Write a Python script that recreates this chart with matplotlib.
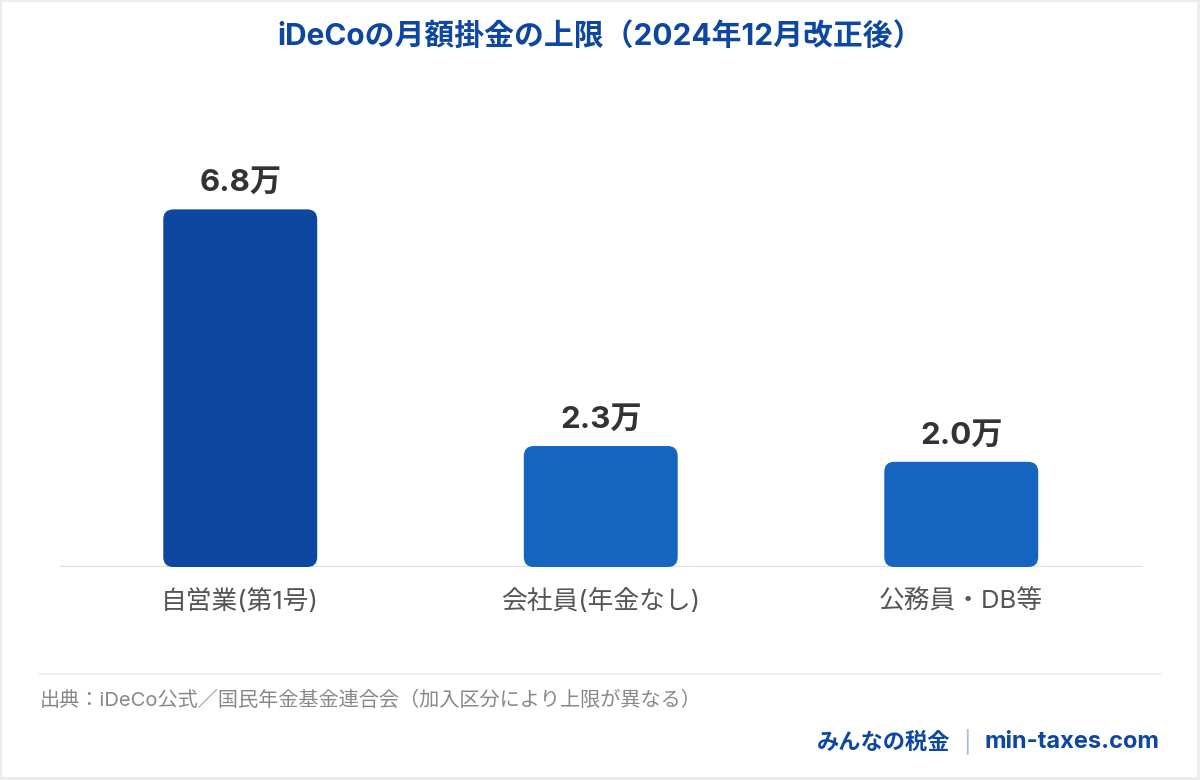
import matplotlib
matplotlib.use("Agg")
import matplotlib.pyplot as plt
from matplotlib.lines import Line2D
from matplotlib.patches import FancyBboxPatch, Rectangle

plt.rcParams["font.family"] = ["Inter", "Noto Sans CJK JP", "DejaVu Sans"]

# data (上限, 万円/月)
categories = ["自営業(第1号)", "会社員(年金なし)", "公務員・DB等"]
limits_man = [6.8, 2.3, 2.0]
value_labels = ["6.8万", "2.3万", "2.0万"]
bar_colors = ["#0d47a1", "#1565c0", "#1565c0"]

TITLE = "iDeCoの月額掛金の上限（2024年12月改正後）"
SOURCE = "出典：iDeCo公式／国民年金基金連合会（加入区分により上限が異なる）"
BRAND = "みんなの税金"
SITE = "min-taxes.com"

BLUE = "#0d47a1"
W, H = 1200, 780

fig = plt.figure(figsize=(W / 100, H / 100), dpi=100, facecolor="#ececec")
fig.patches.append(Rectangle((2 / W, 3 / H), 1 - 5 / W, 1 - 5 / H,
                             transform=fig.transFigure, facecolor="white",
                             edgecolor="none", zorder=-5))

ax = fig.add_axes([60 / W, (H - 567) / H, 1081.5 / W, 426 / H])
ax.set_facecolor("none")
x = list(range(len(categories)))
bars = ax.bar(x, limits_man, width=0.427, color=bar_colors)
ax.set_xlim(-0.5, len(categories) - 0.5)
ax.set_ylim(0, 8.1)
for s in ax.spines.values():
    s.set_visible(False)
ax.set_xticks([])
ax.set_yticks([])
ax.axhline(0, color="#dedede", lw=2.4, zorder=1)

# swap plain rectangles for rounded ones (10 px corners)
(x0, y0), (x1, y1) = ax.transData.transform([(0, 0), (1, 1)])
sx, sy = x1 - x0, y1 - y0
r = 10 / sx
for b in bars:
    fb = FancyBboxPatch((b.get_x(), b.get_y()), b.get_width(), b.get_height(),
                        boxstyle=f"round,pad=0,rounding_size={r}",
                        mutation_aspect=sx / sy, facecolor=b.get_facecolor(),
                        edgecolor="none", zorder=2)
    b.remove()
    ax.add_patch(fb)

for i, (v, lab) in enumerate(zip(limits_man, value_labels)):
    ax.annotate(lab, (i, v), xytext=(0, 19), textcoords="offset points",
                ha="center", va="center", fontsize=22.5, fontweight="bold",
                color="#333333")
    ax.annotate(categories[i], (i, 0), xytext=(0, -24.5),
                textcoords="offset points", ha="center", va="center",
                fontsize=18.5, color="#555555", annotation_clip=False)

fig.text(0.5, 1 - 37 / H, TITLE, ha="center", va="center", fontsize=21.5,
         fontweight="bold", color=BLUE)

fig.add_artist(Line2D([40 / W, 1160 / W], [1 - 674 / H] * 2,
                      color="#eeeeee", lw=1.6))
fig.text(40 / W, 1 - 700 / H, SOURCE, ha="left", va="center",
         fontsize=14.5, color="#888888")

fig.text(1160 / W, 1 - 742 / H, SITE, ha="right", va="center",
         fontsize=17, fontweight="bold", color=BLUE)
fig.text(967 / W, 1 - 742 / H, "|", ha="center", va="center",
         fontsize=16, color="#a9bbd9")
fig.text(950 / W, 1 - 742 / H, BRAND, ha="right", va="center",
         fontsize=16, fontweight="bold", color=BLUE)

fig.savefig("out.png", dpi=100, facecolor=fig.get_facecolor())
